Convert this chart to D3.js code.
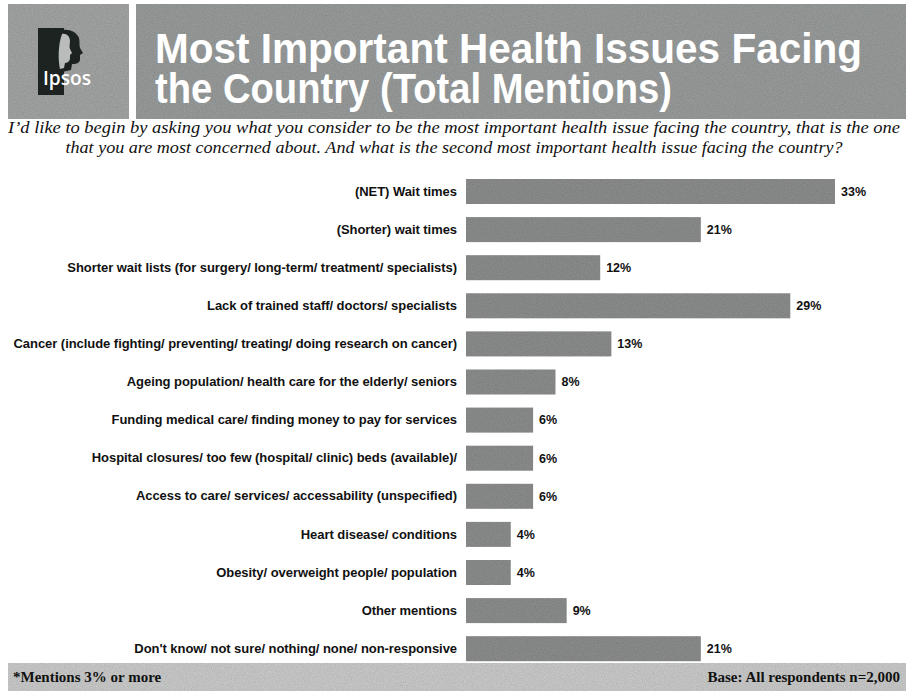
<!DOCTYPE html>
<html>
<head>
<meta charset="utf-8">
<script src="https://cdn.jsdelivr.net/npm/d3@7/dist/d3.min.js"></script>
<style>
  html, body { margin: 0; padding: 0; background: #ffffff; }
  svg { display: block; }
</style>
</head>
<body>
<script>
// ---- data ----
const categories = [
  "(NET) Wait times",
  "(Shorter) wait times",
  "Shorter wait lists (for surgery/ long-term/ treatment/ specialists)",
  "Lack of trained staff/ doctors/ specialists",
  "Cancer (include fighting/ preventing/ treating/ doing research on cancer)",
  "Ageing population/ health care for the elderly/ seniors",
  "Funding medical care/ finding money to pay for services",
  "Hospital closures/ too few (hospital/ clinic) beds (available)/",
  "Access to care/ services/ accessability (unspecified)",
  "Heart disease/ conditions",
  "Obesity/ overweight people/ population",
  "Other mentions",
  "Don't know/ not sure/ nothing/ none/ non-responsive"
];
const values = [33, 21, 12, 29, 13, 8, 6, 6, 6, 4, 4, 9, 21];
const titleLines = ["Most Important Health Issues Facing", "the Country (Total Mentions)"];
const questionLines = [
  "I\u2019d like to begin by asking you what you consider to be the most important health issue facing the country, that is the one",
  "that you are most concerned about.  And what is the second most important health issue facing the country?"
];
const footLeft = "*Mentions 3% or more";
const footRight = "Base: All respondents n=2,000";

const W = 906, H = 691;
const svg = d3.select("body").append("svg").attr("width", W).attr("height", H);

// speckle texture filter (scanned look)
const defs = svg.append("defs");
const f = defs.append("filter").attr("id", "grain").attr("x", 0).attr("y", 0).attr("width", 1).attr("height", 1);
f.append("feTurbulence").attr("type", "fractalNoise").attr("baseFrequency", 0.9).attr("numOctaves", 2).attr("seed", 3).attr("result", "noise");
f.append("feColorMatrix").attr("in", "noise").attr("type", "matrix")
  .attr("values", "0 0 0 0 0  0 0 0 0 0  0 0 0 0 0  0 0 0 0.35 -0.05").attr("result", "dots");
f.append("feComposite").attr("in", "dots").attr("in2", "SourceGraphic").attr("operator", "in").attr("result", "dots2");
f.append("feMerge").call(m => { m.append("feMergeNode").attr("in", "SourceGraphic"); m.append("feMergeNode").attr("in", "dots2"); });

// ---- header ----
svg.append("rect").attr("x", 8).attr("y", 4).attr("width", 121).attr("height", 115).attr("fill", "#a4a6a5").attr("filter", "url(#grain)");
svg.append("rect").attr("x", 136).attr("y", 4).attr("width", W - 136).attr("height", 115).attr("fill", "#9a9d9c").attr("filter", "url(#grain)");

// logo
const logo = svg.append("g");
logo.append("rect").attr("x", 38).attr("y", 28).attr("width", 26).attr("height", 67).attr("fill", "#1c2320");
logo.append("path").attr("fill", "#1c2320")
  .attr("d", "M58,31 C66,28 76,30 79,38 C80,42 79,45 80,48 L83,53 L80,55 L80,60 C79,64 75,64 72,64 L71,70 L62,72 Z");
logo.append("path").attr("fill", "#b9bcbb")
  .attr("d", "M62,34 C66,33 70,36 70,41 C70,44 69,46 70,49 L72,53 L70,55 L70,59 C69,62 67,63 65,63 L64,68 L60,69 C58,60 58,45 62,34 Z");
logo.append("text").attr("x", 43).attr("y", 85).attr("fill", "#ffffff")
  .attr("font-family", "'Open Sans', 'Liberation Sans', sans-serif").attr("font-size", 19).attr("font-weight", 600)
  .attr("textLength", 48).attr("lengthAdjust", "spacingAndGlyphs").text("Ipsos");

// title: one text element, one tspan per line
const titleWidths = [707, 517];
svg.append("text")
  .attr("fill", "#ffffff").attr("font-family", "'Liberation Sans', Arial, sans-serif")
  .attr("font-weight", "bold").attr("font-size", 42)
  .selectAll("tspan").data(titleLines).join("tspan")
  .attr("x", 155).attr("y", (d, i) => 63 + i * 40)
  .attr("textLength", (d, i) => titleWidths[i]).attr("lengthAdjust", "spacingAndGlyphs")
  .text(d => d);

// question
svg.append("g").selectAll("text").data(questionLines).join("text")
  .attr("x", 454).attr("y", (d, i) => 133 + i * 19.5)
  .attr("text-anchor", "middle").attr("fill", "#111")
  .attr("font-family", "'Liberation Serif', 'Times New Roman', serif")
  .attr("font-style", "italic").attr("font-size", 16)
  .attr("textLength", (d, i) => [892, 777][i]).attr("lengthAdjust", "spacingAndGlyphs")
  .text(d => d);

// ---- bars ----
const y = d3.scaleBand().domain(categories).range([179, 179 + 12 * 38.1 + 25]).paddingInner(0.344).paddingOuter(0);
const x = d3.scaleLinear().domain([0, 33]).range([466, 835]);
const data = categories.map((c, i) => ({ c, v: values[i] }));

svg.append("g").selectAll("rect").data(data).join("rect")
  .attr("x", x(0)).attr("y", d => y(d.c))
  .attr("width", d => x(d.v) - x(0)).attr("height", y.bandwidth())
  .attr("fill", "#8d8f8e").attr("filter", "url(#grain)");

// category labels via axis
const axis = d3.axisLeft(y).tickSize(0).tickPadding(0);
const ag = svg.append("g").attr("transform", "translate(457,0)").call(axis);
ag.select(".domain").remove();
ag.selectAll("text").attr("font-family", "'Liberation Sans', Arial, sans-serif")
  .attr("font-weight", "bold").attr("font-size", 13).attr("fill", "#111")
  .attr("letter-spacing", -0.05);

// value labels
svg.append("g").selectAll("text").data(data).join("text")
  .attr("x", d => x(d.v) + 6).attr("y", d => y(d.c) + y.bandwidth() / 2)
  .attr("dy", "0.35em").attr("font-family", "'Liberation Sans', Arial, sans-serif")
  .attr("font-weight", "bold").attr("font-size", 12.5).attr("fill", "#111")
  .text(d => d.v + "%");

// ---- footer ----
svg.append("rect").attr("x", 8).attr("y", 663).attr("width", W - 8).attr("height", H - 663)
  .attr("fill", "#cbcccb").attr("filter", "url(#grain)");
svg.append("text").attr("x", 13).attr("y", 682).attr("fill", "#111")
  .attr("font-family", "'Liberation Serif', 'Times New Roman', serif").attr("font-weight", "bold").attr("font-size", 15)
  .text(footLeft);
svg.append("text").attr("x", 900).attr("y", 682).attr("text-anchor", "end").attr("fill", "#111")
  .attr("font-family", "'Liberation Serif', 'Times New Roman', serif").attr("font-weight", "bold").attr("font-size", 15)
  .text(footRight);
</script>
</body>
</html>
